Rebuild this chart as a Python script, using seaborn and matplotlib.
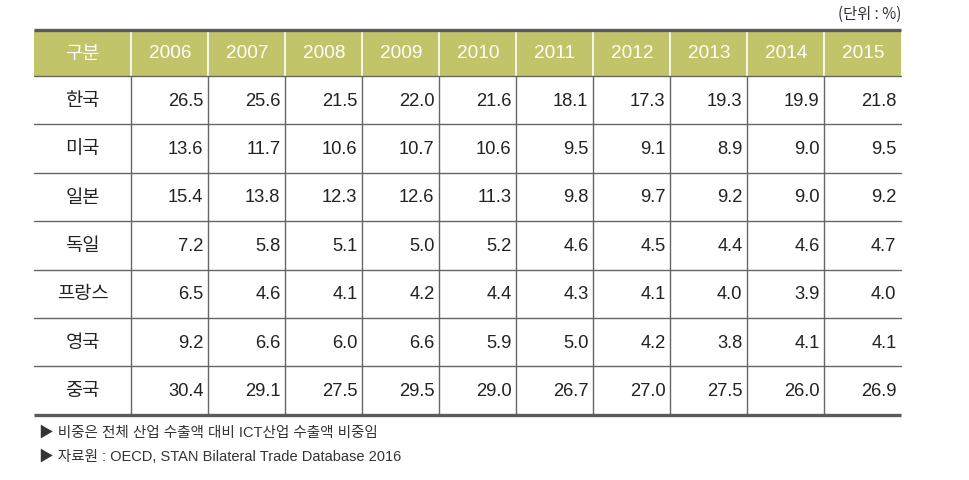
import matplotlib
matplotlib.use('Agg')

import pandas as pd
import seaborn as sns
import matplotlib.pyplot as plt
from matplotlib import font_manager
from matplotlib.patches import Rectangle


years = ['2006', '2007', '2008', '2009', '2010', '2011', '2012', '2013', '2014', '2015']
countries = ['한국', '미국', '일본', '독일', '프랑스', '영국', '중국']

korea = [26.5, 25.6, 21.5, 22.0, 21.6, 18.1, 17.3, 19.3, 19.9, 21.8]
usa = [13.6, 11.7, 10.6, 10.7, 10.6, 9.5, 9.1, 8.9, 9.0, 9.5]
japan = [15.4, 13.8, 12.3, 12.6, 11.3, 9.8, 9.7, 9.2, 9.0, 9.2]
germany = [7.2, 5.8, 5.1, 5.0, 5.2, 4.6, 4.5, 4.4, 4.6, 4.7]
france = [6.5, 4.6, 4.1, 4.2, 4.4, 4.3, 4.1, 4.0, 3.9, 4.0]
uk = [9.2, 6.6, 6.0, 6.6, 5.9, 5.0, 4.2, 3.8, 4.1, 4.1]
china = [30.4, 29.1, 27.5, 29.5, 29.0, 26.7, 27.0, 27.5, 26.0, 26.9]

df = pd.DataFrame([korea, usa, japan, germany, france, uk, china], index=countries, columns=years)

header_label = '구분'
unit_text = '(단위 : %)'
notes = ['▶ 비중은 전체 산업 수출액 대비 ICT산업 수출액 비중임',
         '▶ 자료원 : OECD, STAN Bilateral Trade Database 2016']

sns.set_theme(style='white')

# narrow latin font if the system has one, plain Arial-like otherwise
names = {f.name for f in font_manager.fontManager.ttflist}
if 'Liberation Sans Narrow' in names:
    num_font, num_size = 'Liberation Sans Narrow', 14
else:
    num_font, num_size = 'Liberation Sans', 13.2
kr = ['Noto Sans CJK KR', 'DejaVu Sans']
plt.rcParams['font.family'] = [num_font, 'Noto Sans CJK KR', 'DejaVu Sans']

fig = plt.figure(figsize=(9.7, 4.8), dpi=100)
ax = fig.add_axes([0, 0, 1, 1])
ax.set_xlim(0, 970)
ax.set_ylim(480, 0)
ax.axis('off')

left = 34
first_w = 97.5
col_w = 77.0
right = left + first_w + col_w * len(years)
top = 30
head_h = 46
row_h = 48.4
bottom = top + head_h + row_h * len(countries)

header_color = '#c2c46a'
line_color = '#666666'

ax.add_patch(Rectangle((left, top), right - left, head_h, facecolor=header_color, edgecolor='none'))

edges = [left + first_w + col_w * i for i in range(len(years))]
for x in edges:
    ax.plot([x, x], [top, top + head_h], color='white', lw=1.2)
    ax.plot([x, x], [top + head_h, bottom], color=line_color, lw=1.0)

for i in range(1, len(countries)):
    y = top + head_h + row_h * i
    ax.plot([left, right], [y, y], color=line_color, lw=1.0)
ax.plot([left, right], [top + head_h, top + head_h], color=line_color, lw=1.0)
ax.plot([left, right], [top, top], color='#5a5a5a', lw=2.4, solid_capstyle='butt')
ax.plot([left, right], [bottom, bottom], color='#5a5a5a', lw=2.4, solid_capstyle='butt')

hy = top + head_h / 2
ax.text(left + first_w / 2, hy, header_label, color='white', fontsize=13.5,
        ha='center', va='center', family=kr)
for j, yr in enumerate(years):
    ax.text(edges[j] + col_w / 2, hy + 1, yr, color='white', fontsize=num_size + 0.5,
            ha='center', va='center')

for i, c in enumerate(countries):
    cy = top + head_h + row_h * (i + 0.5)
    ax.text(left + first_w / 2, cy, c, color='#222222', fontsize=13.5,
            ha='center', va='center', family=kr)
    for j, yr in enumerate(years):
        ax.text(edges[j] + col_w - 5, cy + 1, f'{df.loc[c, yr]:.1f}', color='#222222',
                fontsize=num_size, ha='right', va='center')

ax.text(right, 14, unit_text, fontsize=11, ha='right', va='center', color='#333333', family=kr)

for k, note in enumerate(notes):
    ax.text(left + 5, 433 + 24 * k, note, fontsize=10.5, ha='left', va='center', color='#333333',
            family=[num_font, 'Noto Sans CJK KR', 'DejaVu Sans'])

plt.savefig('out.png', dpi=100)
